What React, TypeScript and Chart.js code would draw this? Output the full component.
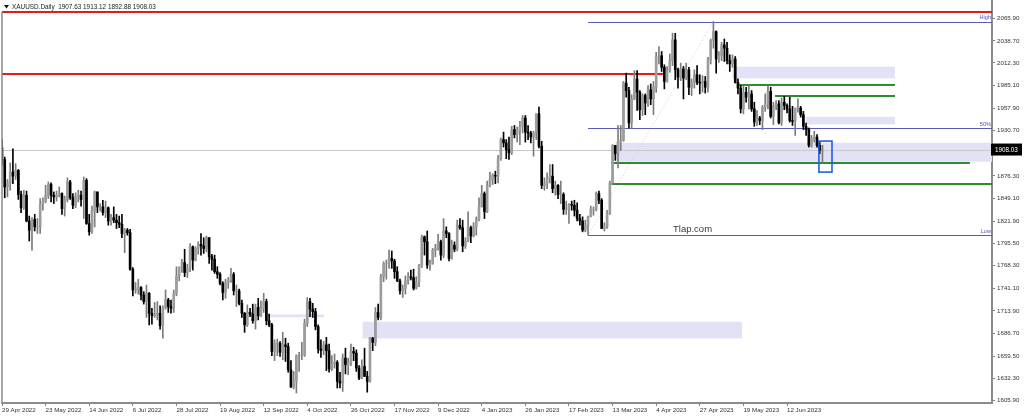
import { useEffect, useRef } from "react";
import { Chart, registerables } from "chart.js";

Chart.register(...registerables);

// XAUUSD daily, 29 Apr 2022 .. 29 Jun 2023 (one row = 16 bars, starting at the matching date label)
const dateLabels = [
  "29 Apr 2022", "23 May 2022", "14 Jun 2022", "6 Jul 2022", "28 Jul 2022", "19 Aug 2022",
  "12 Sep 2022", "4 Oct 2022", "26 Oct 2022", "17 Nov 2022", "9 Dec 2022", "4 Jan 2023",
  "26 Jan 2023", "17 Feb 2023", "13 Mar 2023", "4 Apr 2023", "27 Apr 2023", "19 May 2023",
  "12 Jun 2023",
];
const barsPerLabel = 16;

const opens = [
  1910, 1896, 1863, 1868, 1881, 1876, 1883, 1854, 1838, 1853, 1822, 1811, 1824, 1815, 1815, 1842,
  1846, 1853, 1866, 1853, 1851, 1853, 1855, 1837, 1848, 1869, 1850, 1841, 1852, 1853, 1848, 1871,
  1819, 1809, 1834, 1857, 1839, 1839, 1832, 1838, 1822, 1826, 1823, 1820, 1818, 1807, 1811, 1808,
  1764, 1739, 1740, 1742, 1733, 1725, 1735, 1711, 1708, 1709, 1711, 1696, 1718, 1727, 1719, 1717,
  1735, 1756, 1766, 1772, 1760, 1765, 1791, 1775, 1789, 1794, 1792, 1789, 1802, 1779, 1776, 1761,
  1758, 1747, 1736, 1748, 1751, 1758, 1738, 1738, 1723, 1711, 1697, 1712, 1710, 1702, 1718, 1708,
  1717, 1725, 1702, 1697, 1665, 1675, 1675, 1664, 1673, 1671, 1643, 1622, 1629, 1660, 1660, 1661,
  1699, 1725, 1716, 1713, 1695, 1668, 1666, 1673, 1666, 1644, 1650, 1652, 1629, 1627, 1657, 1649,
  1652, 1665, 1663, 1645, 1633, 1647, 1635, 1629, 1681, 1676, 1712, 1706, 1755, 1771, 1771, 1777,
  1774, 1761, 1750, 1738, 1741, 1750, 1755, 1754, 1741, 1749, 1768, 1803, 1797, 1769, 1771, 1787,
  1789, 1797, 1781, 1810, 1807, 1777, 1793, 1788, 1817, 1814, 1792, 1798, 1814, 1804, 1815, 1824,
  1839, 1855, 1833, 1865, 1872, 1877, 1876, 1897, 1920, 1916, 1908, 1904, 1932, 1926, 1931, 1936,
  1946, 1929, 1928, 1923, 1928, 1951, 1912, 1865, 1867, 1873, 1876, 1861, 1865, 1854, 1854, 1836,
  1836, 1842, 1841, 1835, 1825, 1822, 1811, 1817, 1827, 1836, 1836, 1855, 1847, 1813, 1815, 1831,
  1868, 1913, 1903, 1918, 1919, 1988, 1979, 1940, 1969, 1993, 1977, 1956, 1973, 1964, 1980, 1969,
  1983, 2020, 2021, 2007, 1990, 2003, 2015, 2040, 2004, 1995, 2005, 1994, 2004, 1983, 1989, 1998,
  1989, 1988, 1990, 1983, 2016, 2039, 2050, 2017, 2021, 2034, 2030, 2015, 2011, 2017, 1989, 1982,
  1957, 1977, 1971, 1975, 1957, 1941, 1946, 1943, 1959, 1963, 1978, 1948, 1961, 1963, 1940, 1965,
  1961, 1957, 1943, 1942, 1958, 1958, 1950, 1936, 1932, 1913, 1921, 1923, 1913, 1907.63,
];
const highs = [
  1920, 1899, 1872, 1892, 1909, 1891, 1884, 1858, 1859, 1858, 1828, 1826, 1830, 1825, 1849, 1850,
  1865, 1869, 1868, 1857, 1858, 1863, 1856, 1852, 1874, 1871, 1855, 1856, 1859, 1858, 1875, 1873,
  1830, 1840, 1858, 1857, 1843, 1847, 1846, 1839, 1830, 1839, 1830, 1828, 1830, 1813, 1813, 1812,
  1766, 1748, 1752, 1743, 1737, 1745, 1736, 1717, 1724, 1725, 1720, 1720, 1739, 1729, 1727, 1739,
  1767, 1767, 1776, 1788, 1770, 1795, 1792, 1791, 1797, 1807, 1802, 1804, 1802, 1782, 1781, 1767,
  1760, 1749, 1752, 1754, 1765, 1760, 1745, 1740, 1727, 1712, 1721, 1717, 1722, 1722, 1729, 1726,
  1735, 1728, 1710, 1699, 1679, 1680, 1677, 1688, 1681, 1675, 1654, 1641, 1661, 1664, 1676, 1704,
  1730, 1729, 1723, 1717, 1697, 1679, 1677, 1682, 1674, 1660, 1662, 1654, 1640, 1662, 1669, 1657,
  1674, 1670, 1667, 1648, 1655, 1669, 1641, 1682, 1682, 1718, 1722, 1758, 1773, 1775, 1787, 1786,
  1776, 1767, 1752, 1745, 1756, 1760, 1763, 1764, 1755, 1770, 1805, 1804, 1810, 1775, 1789, 1794,
  1806, 1799, 1825, 1815, 1808, 1799, 1797, 1823, 1825, 1823, 1802, 1833, 1816, 1820, 1827, 1850,
  1865, 1857, 1870, 1881, 1879, 1882, 1901, 1922, 1929, 1920, 1923, 1936, 1937, 1935, 1942, 1949,
  1949, 1937, 1930, 1930, 1951, 1959, 1918, 1874, 1880, 1890, 1890, 1870, 1866, 1870, 1856, 1846,
  1843, 1846, 1847, 1844, 1830, 1827, 1823, 1828, 1840, 1839, 1857, 1858, 1849, 1820, 1835, 1870,
  1914, 1913, 1937, 1937, 1990, 2000, 1983, 1974, 2003, 2003, 1979, 1975, 1975, 1985, 1987, 1990,
  2025, 2032, 2026, 2010, 2008, 2023, 2048, 2048, 2006, 2012, 2008, 2012, 2007, 1993, 2004, 2009,
  1998, 1997, 1996, 2019, 2041, 2062, 2051, 2026, 2037, 2041, 2037, 2022, 2022, 2020, 1993, 1985,
  1984, 1983, 1985, 1979, 1965, 1955, 1948, 1961, 1975, 1984, 1983, 1965, 1967, 1967, 1970, 1972,
  1963, 1971, 1960, 1958, 1969, 1960, 1954, 1940, 1934, 1925, 1930, 1926, 1917, 1913.12,
];
const lows = [
  1889, 1850, 1851, 1859, 1867, 1872, 1848, 1832, 1836, 1821, 1798, 1787, 1810, 1807, 1807, 1835,
  1844, 1849, 1845, 1843, 1846, 1851, 1830, 1828, 1845, 1848, 1837, 1838, 1845, 1840, 1825, 1818,
  1805, 1807, 1815, 1832, 1834, 1829, 1826, 1817, 1817, 1820, 1813, 1814, 1802, 1784, 1805, 1763,
  1732, 1735, 1734, 1727, 1722, 1706, 1697, 1698, 1706, 1703, 1692, 1681, 1716, 1712, 1711, 1712,
  1732, 1750, 1760, 1755, 1754, 1761, 1763, 1774, 1782, 1781, 1783, 1785, 1771, 1763, 1759, 1753,
  1745, 1727, 1729, 1741, 1748, 1733, 1719, 1721, 1706, 1688, 1695, 1707, 1699, 1692, 1703, 1707,
  1712, 1697, 1695, 1660, 1654, 1660, 1659, 1655, 1653, 1640, 1622, 1620, 1615, 1641, 1655, 1659,
  1695, 1707, 1706, 1691, 1663, 1658, 1661, 1642, 1640, 1642, 1645, 1621, 1621, 1617, 1638, 1637,
  1648, 1654, 1641, 1631, 1632, 1635, 1616, 1628, 1666, 1672, 1703, 1703, 1749, 1752, 1765, 1765,
  1753, 1749, 1734, 1730, 1734, 1746, 1751, 1739, 1740, 1743, 1766, 1781, 1765, 1763, 1770, 1779,
  1787, 1775, 1778, 1802, 1774, 1776, 1785, 1786, 1812, 1785, 1789, 1797, 1796, 1803, 1805, 1822,
  1839, 1825, 1832, 1863, 1866, 1867, 1868, 1895, 1911, 1897, 1896, 1902, 1922, 1917, 1914, 1928,
  1917, 1920, 1916, 1900, 1920, 1910, 1861, 1859, 1861, 1868, 1856, 1853, 1849, 1843, 1830, 1830,
  1819, 1835, 1828, 1822, 1817, 1809, 1809, 1805, 1827, 1829, 1834, 1843, 1813, 1810, 1813, 1830,
  1866, 1895, 1886, 1907, 1918, 1971, 1934, 1933, 1968, 1955, 1944, 1949, 1950, 1960, 1962, 1950,
  1977, 2011, 2002, 1981, 1989, 2001, 2009, 1992, 1982, 1991, 1969, 1992, 1974, 1973, 1982, 1986,
  1975, 1977, 1976, 1977, 2011, 2030, 2000, 2013, 2015, 2014, 2011, 2002, 2007, 1988, 1975, 1952,
  1951, 1965, 1957, 1954, 1936, 1937, 1938, 1932, 1954, 1957, 1946, 1938, 1956, 1939, 1937, 1956,
  1952, 1941, 1937, 1925, 1953, 1947, 1932, 1925, 1911, 1911, 1917, 1911, 1903, 1892.88,
];
const closes = [
  1896, 1863, 1868, 1881, 1876, 1883, 1854, 1838, 1853, 1822, 1811, 1824, 1815, 1815, 1842, 1846,
  1853, 1866, 1853, 1851, 1853, 1855, 1837, 1848, 1869, 1850, 1841, 1852, 1853, 1848, 1871, 1819,
  1809, 1834, 1857, 1839, 1839, 1832, 1838, 1822, 1826, 1823, 1820, 1818, 1807, 1811, 1808, 1764,
  1739, 1740, 1742, 1733, 1725, 1735, 1711, 1708, 1709, 1711, 1696, 1718, 1727, 1719, 1717, 1735,
  1756, 1766, 1772, 1760, 1765, 1791, 1775, 1789, 1794, 1792, 1789, 1802, 1779, 1776, 1761, 1758,
  1747, 1736, 1748, 1751, 1758, 1738, 1738, 1723, 1711, 1697, 1712, 1710, 1702, 1718, 1708, 1717,
  1725, 1702, 1697, 1665, 1675, 1675, 1664, 1673, 1671, 1643, 1622, 1629, 1660, 1660, 1661, 1699,
  1725, 1716, 1713, 1695, 1668, 1666, 1673, 1666, 1644, 1650, 1652, 1629, 1627, 1657, 1649, 1652,
  1665, 1663, 1645, 1633, 1647, 1635, 1629, 1681, 1676, 1712, 1706, 1755, 1771, 1771, 1777, 1774,
  1761, 1750, 1738, 1741, 1750, 1755, 1754, 1741, 1749, 1768, 1803, 1797, 1769, 1771, 1787, 1789,
  1797, 1781, 1810, 1807, 1777, 1793, 1788, 1817, 1814, 1792, 1798, 1814, 1804, 1815, 1824, 1839,
  1855, 1833, 1865, 1872, 1877, 1876, 1897, 1920, 1916, 1908, 1904, 1932, 1926, 1931, 1936, 1946,
  1929, 1928, 1923, 1928, 1951, 1912, 1865, 1867, 1873, 1876, 1861, 1865, 1854, 1854, 1836, 1836,
  1842, 1841, 1835, 1825, 1822, 1811, 1817, 1827, 1836, 1836, 1855, 1847, 1813, 1815, 1831, 1868,
  1913, 1903, 1918, 1919, 1988, 1979, 1940, 1969, 1993, 1977, 1956, 1973, 1964, 1980, 1969, 1983,
  2020, 2021, 2007, 1990, 2003, 2015, 2040, 2004, 1995, 2005, 1994, 2004, 1983, 1989, 1998, 1989,
  1988, 1990, 1983, 2016, 2039, 2050, 2017, 2021, 2034, 2030, 2015, 2011, 2017, 1989, 1982, 1957,
  1977, 1971, 1975, 1957, 1941, 1946, 1943, 1959, 1963, 1978, 1948, 1961, 1963, 1940, 1965, 1961,
  1957, 1943, 1942, 1958, 1958, 1950, 1936, 1932, 1913, 1921, 1923, 1913, 1907, 1908.03,
];

const priceTicks = [
  2065.9, 2038.7, 2012.3, 1985.1, 1957.9, 1930.7, 1903.5, 1876.3, 1849.1,
  1821.9, 1795.5, 1768.3, 1741.1, 1713.9, 1686.7, 1659.5, 1632.3, 1605.9,
];
const priceMin = 1603;
const priceMax = 2088;
const lastBarSlot = 363.2; // empty space right of the last bar
const currentPrice = 1908.03;

// shaded zones (bar index from/to, price top/bottom)
const zoneFrom = [268, 295, 225, 97.6, 132.3];
const zoneTo = [327.6, 327.6, 363.2, 118.1, 271.5];
const zoneTop = [2007.7, 1947.5, 1916.2, 1709.7, 1700.8];
const zoneBottom = [1993.7, 1938.3, 1893.3, 1706.1, 1680.8];

// green support lines
const greenFrom = [270, 283.6, 223.6, 223.6];
const greenTo = [327.6, 327.6, 355.1, 363.2];
const greenPrice = [1985.3, 1972.8, 1891.8, 1866.9];

// red resistance lines
const redFrom = [0, 0];
const redTo = [363.2, 242.5];
const redPrice = [2073.5, 1998.5];

// fibonacci from the Feb low to the May high
const fibFrom = 215;
const fibTip = 261;
const fibNames = ["High", "50%", "Low"];
const fibPrice = [2062, 1933.5, 1805];

// box around the last candle
const boxFrom = 299.7;
const boxTo = 304.5;
const boxTop = 1918.2;
const boxBottom = 1880.9;

const font = "'Liberation Sans', Arial, sans-serif";

const overlays = {
  id: "overlays",
  beforeDatasetsDraw(chart: any) {
    const { ctx, chartArea: a, scales } = chart;
    const x = scales.x;
    const y = scales.y;
    ctx.save();
    ctx.beginPath();
    ctx.rect(a.left, a.top, a.right - a.left, a.bottom - a.top);
    ctx.clip();

    ctx.fillStyle = "#e2e2f7";
    zoneFrom.forEach((f, i) => {
      const x1 = x.getPixelForValue(f);
      const x2 = x.getPixelForValue(zoneTo[i]);
      const y1 = y.getPixelForValue(zoneTop[i]);
      const y2 = y.getPixelForValue(zoneBottom[i]);
      ctx.fillRect(x1, y1, x2 - x1, y2 - y1);
    });

    const hline = (from: number, to: number, price: number, color: string, width: number) => {
      const py = Math.round(y.getPixelForValue(price)) + (width % 2 ? 0.5 : 0);
      ctx.strokeStyle = color;
      ctx.lineWidth = width;
      ctx.beginPath();
      ctx.moveTo(x.getPixelForValue(from), py);
      ctx.lineTo(x.getPixelForValue(to), py);
      ctx.stroke();
    };

    hline(0, lastBarSlot, currentPrice, "#c8c8c8", 1);

    // fib diagonal
    ctx.strokeStyle = "#f4c0c0";
    ctx.lineWidth = 1;
    ctx.setLineDash([1, 2]);
    ctx.beginPath();
    ctx.moveTo(x.getPixelForValue(fibFrom), y.getPixelForValue(fibPrice[2]));
    ctx.lineTo(x.getPixelForValue(fibTip), y.getPixelForValue(fibPrice[0]));
    ctx.stroke();
    ctx.setLineDash([]);

    fibPrice.forEach((p) => hline(fibFrom, lastBarSlot, p, "#5a5ab4", 1));
    greenFrom.forEach((f, i) => hline(f, greenTo[i], greenPrice[i], "#2e8b2e", 2));
    redFrom.forEach((f, i) => hline(f, redTo[i], redPrice[i], "#e31b1b", 2));
    ctx.restore();
  },
  afterDraw(chart: any) {
    const { ctx, chartArea: a, scales } = chart;
    const x = scales.x;
    const y = scales.y;
    ctx.save();

    // left frame
    ctx.strokeStyle = "#8a8a8a";
    ctx.lineWidth = 1.5;
    ctx.beginPath();
    ctx.moveTo(a.left, 12);
    ctx.lineTo(a.left, a.bottom);
    ctx.stroke();

    // fib labels
    ctx.font = `5.6px ${font}`;
    ctx.fillStyle = "#5050b8";
    ctx.textAlign = "right";
    ctx.textBaseline = "bottom";
    fibNames.forEach((n, i) => ctx.fillText(n, a.right - 1, y.getPixelForValue(fibPrice[i]) - 1));

    // watermark
    ctx.font = `9.5px ${font}`;
    ctx.fillStyle = "#3a3a3a";
    ctx.textAlign = "left";
    ctx.textBaseline = "middle";
    ctx.fillText("Tlap.com", 673, y.getPixelForValue(1806) - 5);

    // box around last candle
    ctx.strokeStyle = "#1e5ee6";
    ctx.lineWidth = 1.6;
    const bx1 = x.getPixelForValue(boxFrom);
    const bx2 = x.getPixelForValue(boxTo);
    const by1 = y.getPixelForValue(boxTop);
    const by2 = y.getPixelForValue(boxBottom);
    ctx.strokeRect(bx1, by1, bx2 - bx1, by2 - by1);

    // current price tag
    const py = y.getPixelForValue(currentPrice);
    ctx.fillStyle = "#000";
    ctx.fillRect(a.right - 1, py - 6, 1022 - a.right + 1, 12);
    ctx.font = `6.3px ${font}`;
    ctx.fillStyle = "#fff";
    ctx.textAlign = "left";
    ctx.textBaseline = "middle";
    ctx.fillText(currentPrice.toFixed(2), a.right + 3, py + 0.5);

    // header
    const n = closes.length - 1;
    ctx.fillStyle = "#fff";
    ctx.fillRect(3, 1, 160, 10);
    ctx.fillStyle = "#111";
    ctx.beginPath();
    ctx.moveTo(4, 5);
    ctx.lineTo(9, 5);
    ctx.lineTo(6.5, 8.5);
    ctx.closePath();
    ctx.fill();
    ctx.font = `6.4px ${font}`;
    ctx.fillStyle = "#222";
    ctx.textAlign = "left";
    ctx.textBaseline = "middle";
    const ohlc = [opens[n], highs[n], lows[n], closes[n]].map((v) => v.toFixed(2)).join(" ");
    ctx.fillText(`XAUUSD.Daily  ${ohlc}`, 12, 7);
    ctx.restore();
  },
};

const App = () => {
  const canvasRef = useRef<HTMLCanvasElement | null>(null);

  useEffect(() => {
    document.body.style.margin = "0";
    if (!canvasRef.current) return;

    const up = closes.map((c, i) => c >= opens[i]);

    const chart = new Chart(canvasRef.current, {
      type: "bar",
      data: {
        datasets: [
          {
            label: "body",
            data: closes.map((c, i) => ({ x: i, y: [opens[i], c] })) as any,
            backgroundColor: up.map((u) => (u ? "#9c9c9c" : "#000000")),
            borderWidth: 0,
            barThickness: 2,
          },
          {
            label: "wick",
            data: highs.map((h, i) => ({ x: i, y: [lows[i], h] })) as any,
            backgroundColor: up.map((u) => (u ? "#7c7c7c" : "#000000")),
            borderWidth: 0,
            barThickness: 1,
          },
        ],
      },
      options: {
        animation: false,
        responsive: false,
        layout: { padding: { left: 2, top: 0, right: 0, bottom: 0 } },
        datasets: { bar: { grouped: false } },
        plugins: { legend: { display: false }, tooltip: { enabled: false } },
        scales: {
          x: {
            type: "linear",
            offset: false,
            min: 0,
            max: lastBarSlot,
            afterBuildTicks: (s: any) => {
              s.ticks = dateLabels.map((_, k) => ({ value: k * barsPerLabel }));
            },
            afterFit: (s: any) => {
              s.height = 15;
              s.paddingLeft = 0;
              s.paddingRight = 0;
            },
            grid: { drawOnChartArea: false, tickLength: 3, color: "#808080", offset: false },
            border: { display: true, color: "#8c8c8c", width: 2 },
            ticks: {
              autoSkip: false,
              maxRotation: 0,
              align: "start",
              padding: 1,
              color: "#333",
              font: { family: font, size: 6.2 },
              callback: (v: any) => dateLabels[Math.round(Number(v) / barsPerLabel)] ?? "",
            },
          },
          y: {
            type: "linear",
            position: "right",
            min: priceMin,
            max: priceMax,
            afterBuildTicks: (s: any) => {
              s.ticks = priceTicks.map((v) => ({ value: v }));
            },
            afterFit: (s: any) => {
              s.width = 32;
              s.paddingTop = 0;
              s.paddingBottom = 0;
            },
            grid: { drawOnChartArea: false, tickLength: 3, color: "#808080" },
            border: { display: true, color: "#8c8c8c", width: 2 },
            ticks: {
              autoSkip: false,
              padding: 2,
              color: "#333",
              font: { family: font, size: 6.2 },
              callback: (v: any) => Number(v).toFixed(2),
            },
          },
        },
      } as any,
      plugins: [overlays],
    });

    return () => chart.destroy();
  }, []);

  return (
    <div style={{ width: 1024, height: 418, background: "#fff" }}>
      <canvas ref={canvasRef} width={1024} height={418} />
    </div>
  );
};

export default App;
